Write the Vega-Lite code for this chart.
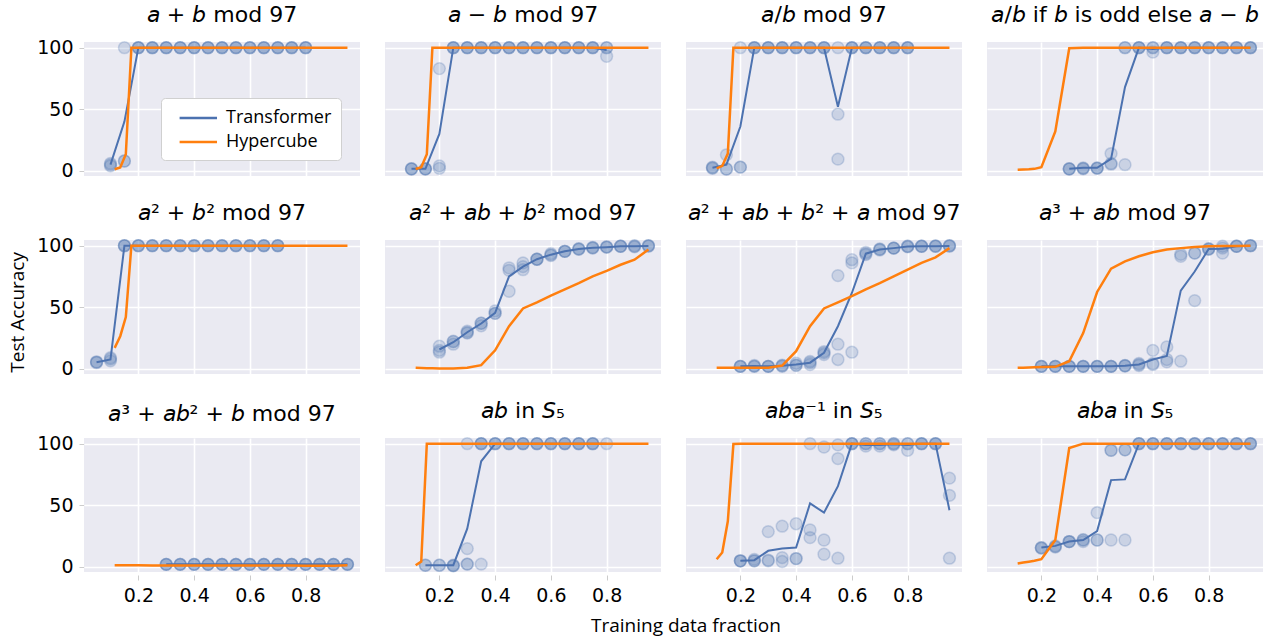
{
  "$schema": "https://vega.github.io/schema/vega-lite/v6.json",
  "background": "white",
  "padding": {"left": 8, "top": 3, "right": 0, "bottom": 5},
  "data": {"values": [
    {"p":1,"x":0.1,"t":5,"r1":4,"r2":6,"r3":5},
    {"p":1,"x":0.15,"t":40,"r1":100,"r2":8,"r3":8},
    {"p":1,"x":0.2,"t":100,"r1":100,"r2":100,"r3":100},
    {"p":1,"x":0.25,"t":100,"r1":100,"r2":100,"r3":100},
    {"p":1,"x":0.3,"t":100,"r1":100,"r2":100,"r3":100},
    {"p":1,"x":0.35,"t":100,"r1":100,"r2":100,"r3":100},
    {"p":1,"x":0.4,"t":100,"r1":100,"r2":100,"r3":100},
    {"p":1,"x":0.45,"t":100,"r1":100,"r2":100,"r3":100},
    {"p":1,"x":0.5,"t":100,"r1":100,"r2":100,"r3":100},
    {"p":1,"x":0.55,"t":100,"r1":100,"r2":100,"r3":100},
    {"p":1,"x":0.6,"t":100,"r1":100,"r2":100,"r3":100},
    {"p":1,"x":0.65,"t":100,"r1":100,"r2":100,"r3":100},
    {"p":1,"x":0.7,"t":100,"r1":100,"r2":100,"r3":100},
    {"p":1,"x":0.75,"t":100,"r1":100,"r2":100,"r3":100},
    {"p":1,"x":0.8,"t":100,"r1":100,"r2":100,"r3":100},

    {"p":2,"x":0.1,"t":1.6,"r1":1.5,"r2":1.6,"r3":1.7},
    {"p":2,"x":0.15,"t":1.6,"r1":1.5,"r2":1.6,"r3":1.7},
    {"p":2,"x":0.2,"t":30,"r1":83,"r2":2,"r3":4},
    {"p":2,"x":0.25,"t":100,"r1":100,"r2":100,"r3":100},
    {"p":2,"x":0.3,"t":100,"r1":100,"r2":100,"r3":100},
    {"p":2,"x":0.35,"t":100,"r1":100,"r2":100,"r3":100},
    {"p":2,"x":0.4,"t":100,"r1":100,"r2":100,"r3":100},
    {"p":2,"x":0.45,"t":100,"r1":100,"r2":100,"r3":100},
    {"p":2,"x":0.5,"t":100,"r1":100,"r2":100,"r3":100},
    {"p":2,"x":0.55,"t":100,"r1":100,"r2":100,"r3":100},
    {"p":2,"x":0.6,"t":100,"r1":100,"r2":100,"r3":100},
    {"p":2,"x":0.65,"t":100,"r1":100,"r2":100,"r3":100},
    {"p":2,"x":0.7,"t":100,"r1":100,"r2":100,"r3":100},
    {"p":2,"x":0.75,"t":100,"r1":100,"r2":100,"r3":100},
    {"p":2,"x":0.8,"t":98,"r1":100,"r2":100,"r3":93},

    {"p":3,"x":0.1,"t":2.5,"r1":2,"r2":2.5,"r3":3},
    {"p":3,"x":0.15,"t":5,"r1":1.5,"r2":1.5,"r3":13},
    {"p":3,"x":0.2,"t":36,"r1":3,"r2":3,"r3":100},
    {"p":3,"x":0.25,"t":100,"r1":100,"r2":100,"r3":100},
    {"p":3,"x":0.3,"t":100,"r1":100,"r2":100,"r3":100},
    {"p":3,"x":0.35,"t":100,"r1":100,"r2":100,"r3":100},
    {"p":3,"x":0.4,"t":100,"r1":100,"r2":100,"r3":100},
    {"p":3,"x":0.45,"t":100,"r1":100,"r2":100,"r3":100},
    {"p":3,"x":0.5,"t":100,"r1":100,"r2":100,"r3":100},
    {"p":3,"x":0.55,"t":52,"r1":100,"r2":46,"r3":9.5},
    {"p":3,"x":0.6,"t":100,"r1":100,"r2":100,"r3":100},
    {"p":3,"x":0.65,"t":100,"r1":100,"r2":100,"r3":100},
    {"p":3,"x":0.7,"t":100,"r1":100,"r2":100,"r3":100},
    {"p":3,"x":0.75,"t":100,"r1":100,"r2":100,"r3":100},
    {"p":3,"x":0.8,"t":100,"r1":100,"r2":100,"r3":100},

    {"p":4,"x":0.3,"t":1.6,"r1":1.5,"r2":1.6,"r3":1.7},
    {"p":4,"x":0.35,"t":2.4,"r1":1.6,"r2":2,"r3":2.4},
    {"p":4,"x":0.4,"t":2.4,"r1":2,"r2":2.2,"r3":2.4},
    {"p":4,"x":0.45,"t":9.7,"r1":14,"r2":5.4,"r3":6},
    {"p":4,"x":0.5,"t":68,"r1":100,"r2":100,"r3":5},
    {"p":4,"x":0.55,"t":100,"r1":100,"r2":100,"r3":100},
    {"p":4,"x":0.6,"t":99,"r1":100,"r2":100,"r3":96.5},
    {"p":4,"x":0.65,"t":100,"r1":100,"r2":100,"r3":100},
    {"p":4,"x":0.7,"t":100,"r1":100,"r2":100,"r3":100},
    {"p":4,"x":0.75,"t":100,"r1":100,"r2":100,"r3":100},
    {"p":4,"x":0.8,"t":100,"r1":100,"r2":100,"r3":100},
    {"p":4,"x":0.85,"t":100,"r1":100,"r2":100,"r3":100},
    {"p":4,"x":0.9,"t":100,"r1":100,"r2":100,"r3":100},
    {"p":4,"x":0.95,"t":100,"r1":100,"r2":100,"r3":100},

    {"p":5,"x":0.05,"t":5.4,"r1":5,"r2":5.5,"r3":5.7},
    {"p":5,"x":0.1,"t":7.6,"r1":6.5,"r2":8,"r3":9},
    {"p":5,"x":0.15,"t":100,"r1":100,"r2":100,"r3":100},
    {"p":5,"x":0.2,"t":100,"r1":100,"r2":100,"r3":100},
    {"p":5,"x":0.25,"t":100,"r1":100,"r2":100,"r3":100},
    {"p":5,"x":0.3,"t":100,"r1":100,"r2":100,"r3":100},
    {"p":5,"x":0.35,"t":100,"r1":100,"r2":100,"r3":100},
    {"p":5,"x":0.4,"t":100,"r1":100,"r2":100,"r3":100},
    {"p":5,"x":0.45,"t":100,"r1":100,"r2":100,"r3":100},
    {"p":5,"x":0.5,"t":100,"r1":100,"r2":100,"r3":100},
    {"p":5,"x":0.55,"t":100,"r1":100,"r2":100,"r3":100},
    {"p":5,"x":0.6,"t":100,"r1":100,"r2":100,"r3":100},
    {"p":5,"x":0.65,"t":100,"r1":100,"r2":100,"r3":100},
    {"p":5,"x":0.7,"t":100,"r1":100,"r2":100,"r3":100},

    {"p":6,"x":0.2,"t":15.7,"r1":18.4,"r2":13.5,"r3":15},
    {"p":6,"x":0.25,"t":21.6,"r1":22.4,"r2":20,"r3":22},
    {"p":6,"x":0.3,"t":29.7,"r1":30.5,"r2":29,"r3":29.5},
    {"p":6,"x":0.35,"t":36.8,"r1":37,"r2":35,"r3":37},
    {"p":6,"x":0.4,"t":45.4,"r1":47,"r2":45,"r3":45},
    {"p":6,"x":0.45,"t":75,"r1":80,"r2":63,"r3":82},
    {"p":6,"x":0.5,"t":83,"r1":86,"r2":80.5,"r3":83},
    {"p":6,"x":0.55,"t":89,"r1":89,"r2":89,"r3":89},
    {"p":6,"x":0.6,"t":92.7,"r1":93.5,"r2":92.5,"r3":92},
    {"p":6,"x":0.65,"t":95.4,"r1":95.4,"r2":95.4,"r3":95.4},
    {"p":6,"x":0.7,"t":97.3,"r1":97,"r2":97.3,"r3":97.6},
    {"p":6,"x":0.75,"t":98.3,"r1":98.6,"r2":98.3,"r3":98},
    {"p":6,"x":0.8,"t":98.8,"r1":98.6,"r2":99,"r3":99},
    {"p":6,"x":0.85,"t":99.5,"r1":99.5,"r2":99.5,"r3":99.5},
    {"p":6,"x":0.9,"t":99.5,"r1":99,"r2":99.5,"r3":100},
    {"p":6,"x":0.95,"t":99.8,"r1":100,"r2":100,"r3":99.5},

    {"p":7,"x":0.2,"t":2,"r1":2,"r2":2,"r3":2},
    {"p":7,"x":0.25,"t":2.2,"r1":2.7,"r2":2,"r3":2},
    {"p":7,"x":0.3,"t":2,"r1":2,"r2":2,"r3":2},
    {"p":7,"x":0.35,"t":2.5,"r1":2,"r2":2.5,"r3":3},
    {"p":7,"x":0.4,"t":3.5,"r1":2.7,"r2":3,"r3":4.5},
    {"p":7,"x":0.45,"t":5,"r1":3.5,"r2":6,"r3":5},
    {"p":7,"x":0.5,"t":13,"r1":13,"r2":11.6,"r3":14},
    {"p":7,"x":0.55,"t":34.6,"r1":75.7,"r2":20,"r3":7.6},
    {"p":7,"x":0.6,"t":61.6,"r1":88.6,"r2":86,"r3":13.5},
    {"p":7,"x":0.65,"t":93.5,"r1":94.6,"r2":92.7,"r3":93.5},
    {"p":7,"x":0.7,"t":96.8,"r1":97.3,"r2":96.5,"r3":97},
    {"p":7,"x":0.75,"t":98,"r1":98,"r2":98,"r3":98},
    {"p":7,"x":0.8,"t":99.3,"r1":99,"r2":99.5,"r3":99.5},
    {"p":7,"x":0.85,"t":99.5,"r1":99.5,"r2":99.5,"r3":99.5},
    {"p":7,"x":0.9,"t":99.5,"r1":99.5,"r2":99.5,"r3":99.8},
    {"p":7,"x":0.95,"t":99.8,"r1":100,"r2":100,"r3":99.5},

    {"p":8,"x":0.2,"t":2,"r1":2,"r2":2,"r3":2},
    {"p":8,"x":0.25,"t":2,"r1":2,"r2":2,"r3":2},
    {"p":8,"x":0.3,"t":2,"r1":2,"r2":2,"r3":2},
    {"p":8,"x":0.35,"t":2,"r1":2,"r2":2,"r3":2},
    {"p":8,"x":0.4,"t":2,"r1":2,"r2":2,"r3":2},
    {"p":8,"x":0.45,"t":2,"r1":2,"r2":2,"r3":2},
    {"p":8,"x":0.5,"t":2.5,"r1":2.7,"r2":2.5,"r3":2.3},
    {"p":8,"x":0.55,"t":3.5,"r1":2.7,"r2":3.5,"r3":4.3},
    {"p":8,"x":0.6,"t":7.6,"r1":15,"r2":4.3,"r3":3.5},
    {"p":8,"x":0.65,"t":10.4,"r1":17.8,"r2":7.6,"r3":5.7},
    {"p":8,"x":0.7,"t":63.5,"r1":91.4,"r2":93,"r3":6.2},
    {"p":8,"x":0.75,"t":79,"r1":94,"r2":94,"r3":55.4},
    {"p":8,"x":0.8,"t":97.3,"r1":97.3,"r2":97,"r3":97.6},
    {"p":8,"x":0.85,"t":97.5,"r1":98,"r2":94,"r3":99.5},
    {"p":8,"x":0.9,"t":99.5,"r1":99.5,"r2":99.5,"r3":99.5},
    {"p":8,"x":0.95,"t":100,"r1":100,"r2":100,"r3":100},

    {"p":9,"x":0.3,"t":2,"r1":2,"r2":2,"r3":2},
    {"p":9,"x":0.35,"t":2,"r1":2,"r2":2,"r3":2},
    {"p":9,"x":0.4,"t":2,"r1":2,"r2":2,"r3":2},
    {"p":9,"x":0.45,"t":2,"r1":2,"r2":2,"r3":2},
    {"p":9,"x":0.5,"t":2,"r1":2,"r2":2,"r3":2},
    {"p":9,"x":0.55,"t":2,"r1":2,"r2":2,"r3":2},
    {"p":9,"x":0.6,"t":2,"r1":2,"r2":2,"r3":2},
    {"p":9,"x":0.65,"t":2,"r1":2,"r2":2,"r3":2},
    {"p":9,"x":0.7,"t":2,"r1":2,"r2":2,"r3":2},
    {"p":9,"x":0.75,"t":2,"r1":2,"r2":2,"r3":2},
    {"p":9,"x":0.8,"t":2,"r1":2,"r2":2,"r3":2},
    {"p":9,"x":0.85,"t":2,"r1":2,"r2":2,"r3":2},
    {"p":9,"x":0.9,"t":2,"r1":2,"r2":2,"r3":2},
    {"p":9,"x":0.95,"t":2,"r1":2,"r2":2,"r3":2},

    {"p":10,"x":0.15,"t":1.3,"r1":1.3,"r2":1.3},
    {"p":10,"x":0.2,"t":1.3,"r1":1.3,"r2":1.3},
    {"p":10,"x":0.25,"t":1.3,"r1":0.8,"r2":1,"r3":1.3},
    {"p":10,"x":0.3,"t":31,"r1":100,"r2":14.8,"r3":2.2,"r4":2.2},
    {"p":10,"x":0.35,"t":85.7,"r1":100,"r2":100,"r3":100,"r4":2.2},
    {"p":10,"x":0.4,"t":100,"r1":100,"r2":100,"r3":100},
    {"p":10,"x":0.45,"t":100,"r1":100,"r2":100,"r3":100},
    {"p":10,"x":0.5,"t":100,"r1":100,"r2":100,"r3":100},
    {"p":10,"x":0.55,"t":100,"r1":100,"r2":100,"r3":100},
    {"p":10,"x":0.6,"t":100,"r1":100,"r2":100,"r3":100},
    {"p":10,"x":0.65,"t":100,"r1":100,"r2":100,"r3":100},
    {"p":10,"x":0.7,"t":100,"r1":100,"r2":100,"r3":100},
    {"p":10,"x":0.75,"t":100,"r1":100,"r2":100,"r3":100},
    {"p":10,"x":0.8,"t":100,"r1":100},

    {"p":11,"x":0.2,"t":4.9,"r1":4.9,"r2":4.9,"r3":4.9},
    {"p":11,"x":0.25,"t":5.4,"r1":4.9,"r2":4.9,"r3":6},
    {"p":11,"x":0.3,"t":13,"r1":28.6,"r2":4.9,"r3":5.5},
    {"p":11,"x":0.35,"t":14.8,"r1":33,"r2":7.5,"r3":4.3},
    {"p":11,"x":0.4,"t":15.6,"r1":35,"r2":6.7,"r3":6.7},
    {"p":11,"x":0.45,"t":51.5,"r1":100,"r2":30,"r3":23.7},
    {"p":11,"x":0.5,"t":44,"r1":97.3,"r2":21.8,"r3":10.2},
    {"p":11,"x":0.55,"t":65.5,"r1":99,"r2":87.9,"r3":7},
    {"p":11,"x":0.6,"t":100,"r1":100,"r2":100,"r3":100},
    {"p":11,"x":0.65,"t":99,"r1":100,"r2":98,"r3":100},
    {"p":11,"x":0.7,"t":99,"r1":100,"r2":98,"r3":100},
    {"p":11,"x":0.75,"t":99.5,"r1":100,"r2":99,"r3":100},
    {"p":11,"x":0.8,"t":99,"r1":100,"r2":94.6,"r3":100},
    {"p":11,"x":0.85,"t":100,"r1":100,"r2":100,"r3":100},
    {"p":11,"x":0.9,"t":100,"r1":100,"r2":100,"r3":100},
    {"p":11,"x":0.95,"t":46,"r1":72,"r2":58,"r3":7},

    {"p":12,"x":0.2,"t":15.6,"r1":15.6,"r2":15.6,"r3":15},
    {"p":12,"x":0.25,"t":17,"r1":16.4,"r2":17,"r3":16},
    {"p":12,"x":0.3,"t":20.5,"r1":20.5,"r2":20.5,"r3":20.5},
    {"p":12,"x":0.35,"t":21.8,"r1":20.5,"r2":21.8,"r3":22},
    {"p":12,"x":0.4,"t":29,"r1":44,"r2":21.8,"r3":21.8},
    {"p":12,"x":0.45,"t":70.4,"r1":94.6,"r2":94.6,"r3":21.8},
    {"p":12,"x":0.5,"t":71,"r1":95,"r2":95,"r3":21.8},
    {"p":12,"x":0.55,"t":100,"r1":100,"r2":100,"r3":100},
    {"p":12,"x":0.6,"t":100,"r1":100,"r2":100,"r3":100},
    {"p":12,"x":0.65,"t":100,"r1":100,"r2":100,"r3":100},
    {"p":12,"x":0.7,"t":100,"r1":100,"r2":100,"r3":100},
    {"p":12,"x":0.75,"t":100,"r1":100,"r2":100,"r3":100},
    {"p":12,"x":0.8,"t":100,"r1":100,"r2":100,"r3":100},
    {"p":12,"x":0.85,"t":100,"r1":100,"r2":100,"r3":100},
    {"p":12,"x":0.9,"t":100,"r1":100,"r2":100,"r3":100},
    {"p":12,"x":0.95,"t":100,"r1":100,"r2":100,"r3":100},

    {"p":1,"x":0.115,"h":1.3},{"p":1,"x":0.135,"h":2.7},{"p":1,"x":0.155,"h":13.5},{"p":1,"x":0.175,"h":100},{"p":1,"x":0.2,"h":100},{"p":1,"x":0.25,"h":100},{"p":1,"x":0.3,"h":100},{"p":1,"x":0.35,"h":100},{"p":1,"x":0.4,"h":100},{"p":1,"x":0.45,"h":100},{"p":1,"x":0.5,"h":100},{"p":1,"x":0.55,"h":100},{"p":1,"x":0.6,"h":100},{"p":1,"x":0.65,"h":100},{"p":1,"x":0.7,"h":100},{"p":1,"x":0.75,"h":100},{"p":1,"x":0.8,"h":100},{"p":1,"x":0.85,"h":100},{"p":1,"x":0.9,"h":100},{"p":1,"x":0.95,"h":100},
    {"p":2,"x":0.115,"h":1.5},{"p":2,"x":0.135,"h":3},{"p":2,"x":0.155,"h":13.5},{"p":2,"x":0.175,"h":100},{"p":2,"x":0.2,"h":100},{"p":2,"x":0.25,"h":100},{"p":2,"x":0.3,"h":100},{"p":2,"x":0.35,"h":100},{"p":2,"x":0.4,"h":100},{"p":2,"x":0.45,"h":100},{"p":2,"x":0.5,"h":100},{"p":2,"x":0.55,"h":100},{"p":2,"x":0.6,"h":100},{"p":2,"x":0.65,"h":100},{"p":2,"x":0.7,"h":100},{"p":2,"x":0.75,"h":100},{"p":2,"x":0.8,"h":100},{"p":2,"x":0.85,"h":100},{"p":2,"x":0.9,"h":100},{"p":2,"x":0.95,"h":100},
    {"p":3,"x":0.115,"h":2},{"p":3,"x":0.135,"h":4},{"p":3,"x":0.155,"h":14},{"p":3,"x":0.175,"h":100},{"p":3,"x":0.2,"h":100},{"p":3,"x":0.25,"h":100},{"p":3,"x":0.3,"h":100},{"p":3,"x":0.35,"h":100},{"p":3,"x":0.4,"h":100},{"p":3,"x":0.45,"h":100},{"p":3,"x":0.5,"h":100},{"p":3,"x":0.55,"h":100},{"p":3,"x":0.6,"h":100},{"p":3,"x":0.65,"h":100},{"p":3,"x":0.7,"h":100},{"p":3,"x":0.75,"h":100},{"p":3,"x":0.8,"h":100},{"p":3,"x":0.85,"h":100},{"p":3,"x":0.9,"h":100},{"p":3,"x":0.95,"h":100},
    {"p":4,"x":0.115,"h":0.8},{"p":4,"x":0.135,"h":1},{"p":4,"x":0.155,"h":1.2},{"p":4,"x":0.175,"h":1.6},{"p":4,"x":0.2,"h":3},{"p":4,"x":0.25,"h":32},{"p":4,"x":0.3,"h":99.5},{"p":4,"x":0.35,"h":100},{"p":4,"x":0.4,"h":100},{"p":4,"x":0.45,"h":100},{"p":4,"x":0.5,"h":100},{"p":4,"x":0.55,"h":100},{"p":4,"x":0.6,"h":100},{"p":4,"x":0.65,"h":100},{"p":4,"x":0.7,"h":100},{"p":4,"x":0.75,"h":100},{"p":4,"x":0.8,"h":100},{"p":4,"x":0.85,"h":100},{"p":4,"x":0.9,"h":100},{"p":4,"x":0.95,"h":100},
    {"p":5,"x":0.115,"h":17},{"p":5,"x":0.135,"h":26.5},{"p":5,"x":0.155,"h":42},{"p":5,"x":0.175,"h":100},{"p":5,"x":0.2,"h":100},{"p":5,"x":0.25,"h":100},{"p":5,"x":0.3,"h":100},{"p":5,"x":0.35,"h":100},{"p":5,"x":0.4,"h":100},{"p":5,"x":0.45,"h":100},{"p":5,"x":0.5,"h":100},{"p":5,"x":0.55,"h":100},{"p":5,"x":0.6,"h":100},{"p":5,"x":0.65,"h":100},{"p":5,"x":0.7,"h":100},{"p":5,"x":0.75,"h":100},{"p":5,"x":0.8,"h":100},{"p":5,"x":0.85,"h":100},{"p":5,"x":0.9,"h":100},{"p":5,"x":0.95,"h":100},
    {"p":6,"x":0.115,"h":0.8},{"p":6,"x":0.135,"h":0.6},{"p":6,"x":0.155,"h":0.5},{"p":6,"x":0.175,"h":0.4},{"p":6,"x":0.2,"h":0.3},{"p":6,"x":0.25,"h":0.3},{"p":6,"x":0.3,"h":0.8},{"p":6,"x":0.35,"h":3},{"p":6,"x":0.4,"h":15},{"p":6,"x":0.45,"h":34.6},{"p":6,"x":0.5,"h":49},{"p":6,"x":0.55,"h":54},{"p":6,"x":0.6,"h":59.5},{"p":6,"x":0.65,"h":64.5},{"p":6,"x":0.7,"h":69.5},{"p":6,"x":0.75,"h":75},{"p":6,"x":0.8,"h":79.5},{"p":6,"x":0.85,"h":84.5},{"p":6,"x":0.9,"h":88.6},{"p":6,"x":0.95,"h":96.8},
    {"p":7,"x":0.115,"h":0.8},{"p":7,"x":0.135,"h":0.8},{"p":7,"x":0.155,"h":0.8},{"p":7,"x":0.175,"h":0.8},{"p":7,"x":0.2,"h":0.8},{"p":7,"x":0.25,"h":0.8},{"p":7,"x":0.3,"h":0.9},{"p":7,"x":0.35,"h":2.7},{"p":7,"x":0.4,"h":14.3},{"p":7,"x":0.45,"h":34.6},{"p":7,"x":0.5,"h":49},{"p":7,"x":0.55,"h":54},{"p":7,"x":0.6,"h":59},{"p":7,"x":0.65,"h":64.5},{"p":7,"x":0.7,"h":69.5},{"p":7,"x":0.75,"h":75},{"p":7,"x":0.8,"h":80.5},{"p":7,"x":0.85,"h":86},{"p":7,"x":0.9,"h":90.5},{"p":7,"x":0.95,"h":98},
    {"p":8,"x":0.115,"h":0.8},{"p":8,"x":0.135,"h":0.9},{"p":8,"x":0.155,"h":1.1},{"p":8,"x":0.175,"h":1.3},{"p":8,"x":0.2,"h":1.4},{"p":8,"x":0.25,"h":1.6},{"p":8,"x":0.3,"h":6.2},{"p":8,"x":0.35,"h":29},{"p":8,"x":0.4,"h":62.4},{"p":8,"x":0.45,"h":81.4},{"p":8,"x":0.5,"h":87.3},{"p":8,"x":0.55,"h":91.4},{"p":8,"x":0.6,"h":94.6},{"p":8,"x":0.65,"h":96.8},{"p":8,"x":0.7,"h":98},{"p":8,"x":0.75,"h":99},{"p":8,"x":0.8,"h":99.5},{"p":8,"x":0.85,"h":99.7},{"p":8,"x":0.9,"h":99.8},{"p":8,"x":0.95,"h":100},
    {"p":9,"x":0.115,"h":1.3},{"p":9,"x":0.135,"h":1.3},{"p":9,"x":0.155,"h":1.2},{"p":9,"x":0.175,"h":1.2},{"p":9,"x":0.2,"h":1.2},{"p":9,"x":0.25,"h":1.1},{"p":9,"x":0.3,"h":1.1},{"p":9,"x":0.35,"h":1},{"p":9,"x":0.4,"h":1},{"p":9,"x":0.45,"h":1},{"p":9,"x":0.5,"h":1},{"p":9,"x":0.55,"h":1},{"p":9,"x":0.6,"h":1},{"p":9,"x":0.65,"h":1},{"p":9,"x":0.7,"h":1},{"p":9,"x":0.75,"h":1},{"p":9,"x":0.8,"h":0.9},{"p":9,"x":0.85,"h":0.9},{"p":9,"x":0.9,"h":0.9},{"p":9,"x":0.95,"h":1.2},
    {"p":10,"x":0.115,"h":1.3},{"p":10,"x":0.135,"h":4.3},{"p":10,"x":0.155,"h":100},{"p":10,"x":0.175,"h":100},{"p":10,"x":0.2,"h":100},{"p":10,"x":0.25,"h":100},{"p":10,"x":0.3,"h":100},{"p":10,"x":0.35,"h":100},{"p":10,"x":0.4,"h":100},{"p":10,"x":0.45,"h":100},{"p":10,"x":0.5,"h":100},{"p":10,"x":0.55,"h":100},{"p":10,"x":0.6,"h":100},{"p":10,"x":0.65,"h":100},{"p":10,"x":0.7,"h":100},{"p":10,"x":0.75,"h":100},{"p":10,"x":0.8,"h":100},{"p":10,"x":0.85,"h":100},{"p":10,"x":0.9,"h":100},{"p":10,"x":0.95,"h":100},
    {"p":11,"x":0.115,"h":6.2},{"p":11,"x":0.135,"h":11.6},{"p":11,"x":0.155,"h":37},{"p":11,"x":0.175,"h":99.7},{"p":11,"x":0.2,"h":100},{"p":11,"x":0.25,"h":100},{"p":11,"x":0.3,"h":100},{"p":11,"x":0.35,"h":100},{"p":11,"x":0.4,"h":100},{"p":11,"x":0.45,"h":100},{"p":11,"x":0.5,"h":100},{"p":11,"x":0.55,"h":100},{"p":11,"x":0.6,"h":100},{"p":11,"x":0.65,"h":100},{"p":11,"x":0.7,"h":100},{"p":11,"x":0.75,"h":100},{"p":11,"x":0.8,"h":100},{"p":11,"x":0.85,"h":100},{"p":11,"x":0.9,"h":100},{"p":11,"x":0.95,"h":100},
    {"p":12,"x":0.115,"h":2.7},{"p":12,"x":0.135,"h":3.5},{"p":12,"x":0.155,"h":4.2},{"p":12,"x":0.175,"h":5},{"p":12,"x":0.2,"h":6.2},{"p":12,"x":0.25,"h":21.8},{"p":12,"x":0.3,"h":96.5},{"p":12,"x":0.35,"h":100},{"p":12,"x":0.4,"h":100},{"p":12,"x":0.45,"h":100},{"p":12,"x":0.5,"h":100},{"p":12,"x":0.55,"h":100},{"p":12,"x":0.6,"h":100},{"p":12,"x":0.65,"h":100},{"p":12,"x":0.7,"h":100},{"p":12,"x":0.75,"h":100},{"p":12,"x":0.8,"h":100},{"p":12,"x":0.85,"h":100},{"p":12,"x":0.9,"h":100},{"p":12,"x":0.95,"h":100}
  ]},
  "title": {"text": "Training data fraction", "orient": "bottom", "anchor": "middle", "offset": 12, "dx": 50},
  "vconcat": [
    {
      "title": {"text": "Test Accuracy", "orient": "left", "anchor": "middle", "offset": 9, "dx": -8},
      "facet": {
        "field": "p",
        "type": "ordinal",
        "header": {
          "title": null,
          "labelExpr": "['𝘢 + 𝘣 mod 97', '𝘢 − 𝘣 mod 97', '𝘢/𝘣 mod 97', '𝘢/𝘣 if 𝘣 is odd else 𝘢 − 𝘣', '𝘢² + 𝘣² mod 97', '𝘢² + 𝘢𝘣 + 𝘣² mod 97', '𝘢² + 𝘢𝘣 + 𝘣² + 𝘢 mod 97', '𝘢³ + 𝘢𝘣 mod 97', '𝘢³ + 𝘢𝘣² + 𝘣 mod 97', '𝘢𝘣 in 𝘚₅', '𝘢𝘣𝘢⁻¹ in 𝘚₅', '𝘢𝘣𝘢 in 𝘚₅'][datum.value - 1]",
          "labelFont": "DejaVu Sans",
          "labelFontSize": 22,
          "labelColor": "black",
          "labelPadding": 12
        }
      },
      "columns": 4,
      "spacing": {"row": 22, "column": 25},
      "spec": {
        "width": 276,
        "height": 134,
        "layer": [
          {
            "transform": [
              {"filter": "isValid(datum.t)"},
              {"fold": ["r1", "r2", "r3", "r4"], "as": ["run", "acc"]},
              {"filter": "isValid(datum.acc)"}
            ],
            "mark": {"type": "circle", "size": 140, "color": "#4C72B0", "fillOpacity": 0.2, "stroke": "#4C72B0", "strokeOpacity": 0.25, "strokeWidth": 1.5},
            "encoding": {
              "x": {"field": "x", "type": "quantitative", "scale": {"domain": [0.005, 0.995], "nice": false, "zero": false}, "axis": {"values": [0.2, 0.4, 0.6, 0.8], "format": ".1f", "title": null}},
              "y": {"field": "acc", "type": "quantitative", "scale": {"domain": [-4.2, 104.6], "nice": false, "zero": false}, "axis": {"values": [0, 50, 100], "title": null}}
            }
          },
          {
            "transform": [{"filter": "isValid(datum.t)"}],
            "mark": {"type": "line", "strokeWidth": 2},
            "encoding": {
              "x": {"field": "x", "type": "quantitative", "axis": {"values": [0.2, 0.4, 0.6, 0.8], "format": ".1f", "title": null}},
              "y": {"field": "t", "type": "quantitative", "axis": {"values": [0, 50, 100], "title": null}},
              "color": {"datum": "Transformer", "type": "nominal", "scale": {"domain": ["Transformer", "Hypercube"], "range": ["#4C72B0", "#FF7F0E"]}, "legend": {"title": null, "labelExpr": "datum.label + '\u2002'"}}
            }
          },
          {
            "transform": [{"filter": "isValid(datum.h)"}],
            "mark": {"type": "line", "strokeWidth": 2.5},
            "encoding": {
              "x": {"field": "x", "type": "quantitative", "axis": {"values": [0.2, 0.4, 0.6, 0.8], "format": ".1f", "title": null}},
              "y": {"field": "h", "type": "quantitative", "axis": {"values": [0, 50, 100], "title": null}},
              "color": {"datum": "Hypercube", "type": "nominal"}
            }
          }
        ]
      }
    }
  ],
  "config": {
    "font": "DejaVu Sans",
    "view": {"fill": "#EAEAF2", "stroke": null},
    "title": {"font": "Open Sans", "fontSize": 19, "fontWeight": "normal", "color": "black"},
    "axis": {
      "labelFont": "DejaVu Sans",
      "labelFontSize": 19,
      "labelColor": "black",
      "labelPadding": 6,
      "gridColor": "white",
      "gridWidth": 1.6,
      "domain": false,
      "tickColor": "#cccccc",
      "tickSize": 5
    },
    "legend": {
      "orient": "none",
      "legendX": 77,
      "legendY": 56,
      "fillColor": "white",
      "strokeColor": "#d0d0d0",
      "cornerRadius": 4,
      "padding": 9,
      "labelFont": "Open Sans",
      "labelFontSize": 18,
      "labelColor": "black",
      "symbolType": "M-0.15,0H3.85",
      "symbolStrokeWidth": 2.5,
      "symbolSize": 350,
      "rowPadding": 4,
      "labelOffset": 34
    }
  }
}
